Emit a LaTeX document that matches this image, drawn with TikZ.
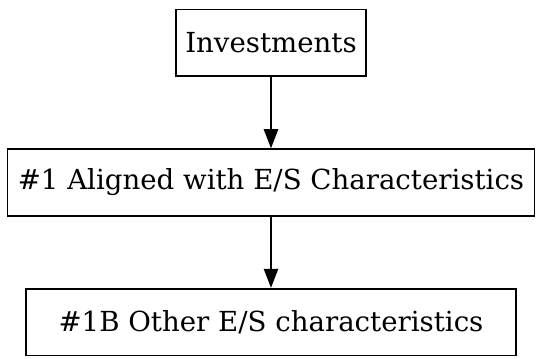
\documentclass[tikz,border=0pt]{standalone}
\usepackage{fontspec}
\setmainfont{DejaVu Serif}
\usetikzlibrary{positioning,arrows.meta}
\begin{document}
\begin{tikzpicture}[
    box/.style={draw,line width=0.9pt,minimum height=35pt,inner xsep=4pt,
        font=\fontsize{14.5}{17}\selectfont},
    flow/.style={line width=0.9pt,-{Triangle[length=10pt,width=7.5pt]}}]
\useasboundingbox (0,0) rectangle (284.6pt,188pt);
\node[box,minimum width=100pt] (inv) at (142.3pt,165.5pt) {Investments};
\node[box,minimum width=276.6pt,below=37.4pt of inv] (es) {\#1 Aligned with E/S Characteristics};
\node[box,minimum width=257.4pt,below=37.4pt of es] (other) {\#1B Other E/S characteristics};
\draw[flow] (inv) -- (es);
\draw[flow] (es) -- (other);
\end{tikzpicture}
\end{document}
